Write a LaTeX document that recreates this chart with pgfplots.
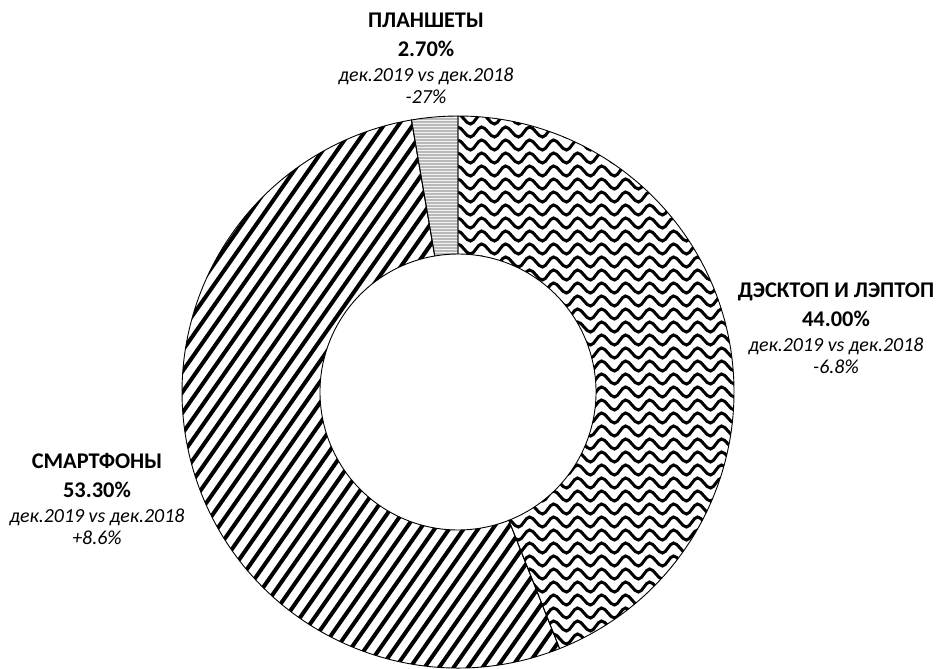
\documentclass[border=0pt]{standalone}
\usepackage{pgfplots}
\pgfplotsset{compat=1.18}
\usepackage{pgfplotstable}
\usepackage{fontspec}
\setmainfont{Carlito}

\pgfplotstableread{
key share
desk 44.0
smart 53.3
tab 2.7
}\sharetable

\pgfplotstablegetelem{0}{share}\of\sharetable \let\shdesk\pgfplotsretval
\pgfplotstablegetelem{1}{share}\of\sharetable \let\shsmart\pgfplotsretval
\pgfplotstablegetelem{2}{share}\of\sharetable \let\shtab\pgfplotsretval

% sector path in a scope centred on the donut centre, unit 1bp
\newcommand{\sectorpath}[2]{(#1:276) arc[start angle=#1,end angle=#2,radius=276] -- (#2:138) arc[start angle=#2,end angle=#1,radius=138] -- cycle}

\newcommand{\lbl}[6]{%
  \node[anchor=base, inner sep=0pt, font=\fontsize{22.5}{26}\selectfont\bfseries] at (axis cs:#1,668-#2) {#3};
  \node[anchor=base, inner sep=0pt, font=\fontsize{22.5}{26}\selectfont\bfseries] at (axis cs:#1,668-#2-29) {#4};
  \node[anchor=base, inner sep=0pt, font=\fontsize{20}{24}\selectfont\itshape] at (axis cs:#1,668-#2-54) {дек.2019 vs дек.2018};
  \node[anchor=base, inner sep=0pt, font=\fontsize{20}{24}\selectfont\itshape] at (axis cs:#1,668-#2-76) {#6};
}

\begin{document}
\begin{tikzpicture}
\pgfmathsetmacro{\aA}{90}
\pgfmathsetmacro{\aB}{\aA-3.6*\shdesk}
\pgfmathsetmacro{\aC}{\aB-3.6*\shsmart}
\pgfmathsetmacro{\aD}{\aC-3.6*\shtab}
\begin{axis}[
  width=940bp, height=668bp, scale only axis,
  xmin=0, xmax=940, ymin=0, ymax=668,
  hide axis, clip=false,
]
\coordinate (LL) at (axis cs:0,0);
\coordinate (UR) at (axis cs:940,668);
\pgfplotsextra{%
\begin{scope}[shift={(axis cs:458,276)}, x=1bp, y=1bp]
  % desktop & laptop: waves
  \begin{scope}
    \clip \sectorpath{\aA}{\aB};
    \foreach \yy in {-286,-273,...,286} {
      \draw[line width=3bp, line cap=round] (-30,\yy)
        \foreach \i in {0,...,13} { sin ++(5.5,5) cos ++(6.5,-5) sin ++(6.5,-5) cos ++(5.5,5) };
    }
  \end{scope}
  % smartphones: diagonal stripes
  \begin{scope}
    \clip \sectorpath{\aB}{\aC};
    \foreach \k in {-60,...,40} {
      \draw[line width=4bp] ([shift={(235:500)}]\k*14.5,0) -- ++(55:1000);
    }
  \end{scope}
  % tablets: fine gray horizontal lines
  \begin{scope}
    \clip \sectorpath{\aC}{\aD};
    \fill[gray!10] (-60,100) rectangle (10,290);
    \foreach \yy in {120,123,...,285} {
      \draw[gray!55, line width=1.1bp] (-60,\yy) -- (10,\yy);
    }
  \end{scope}
  \draw[black, line width=0.9bp] \sectorpath{\aA}{\aB};
  \draw[black, line width=0.9bp] \sectorpath{\aB}{\aC};
  \draw[black, line width=0.9bp] \sectorpath{\aC}{\aD};
\end{scope}
}

\lbl{426}{28}{ПЛАНШЕТЫ}{2.70\%}{}{-27\%}
\lbl{836}{298}{ДЭСКТОП И ЛЭПТОП}{44.00\%}{}{-6.8\%}
\lbl{97}{468}{СМАРТФОНЫ}{53.30\%}{}{+8.6\%}
\end{axis}
\pgfresetboundingbox
\useasboundingbox (LL) rectangle (UR);
\end{tikzpicture}
\end{document}
